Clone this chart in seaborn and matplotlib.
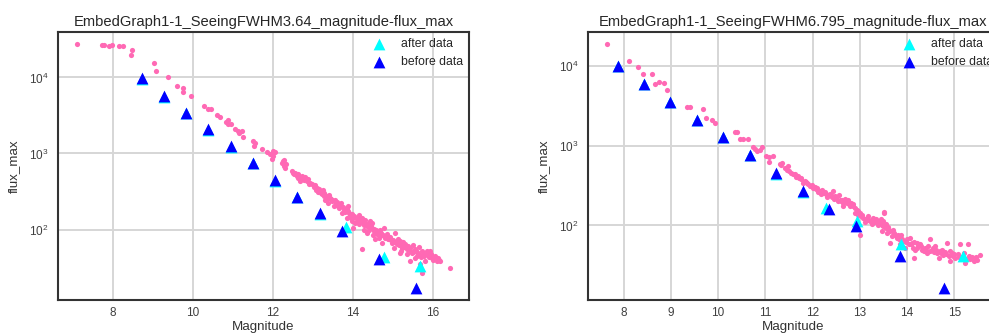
import matplotlib
matplotlib.use("Agg")
import matplotlib.pyplot as plt
import seaborn as sns
import numpy as np
import pandas as pd

# ---------------- data: left panel (SeeingFWHM3.64) ----------------
left_title = "EmbedGraph1-1_SeeingFWHM3.64_magnitude-flux_max"
left_pink_mag = [
    7.09, 7.72, 7.78, 7.91, 7.98, 8.14, 8.24, 8.48, 8.44, 9.03, 9.08, 9.38, 9.59, 9.75, 9.74, 9.95,
    10.28, 10.38, 10.45, 10.59, 10.68, 10.82, 10.88, 10.95, 10.87, 11.05, 11.12, 11.22, 11.15, 11.25,
    11.49, 11.55, 11.53, 11.73, 11.84, 11.91, 11.99, 12.05, 12.00, 12.26, 12.22, 12.31, 12.28, 11.98,
    12.24, 12.30,
    12.47, 12.55, 12.63, 12.72, 12.59, 12.80, 12.66, 12.84, 12.93, 12.97, 12.50, 12.70, 12.88, 13.05,
    13.09, 13.18, 13.26, 13.34, 13.43, 13.30, 13.47, 13.55, 13.38, 13.59, 13.68, 13.51, 13.76, 13.84,
    13.88, 13.72, 13.93, 14.01, 14.09, 13.84, 14.18, 14.05, 14.26, 14.34, 13.99, 13.88, 13.15, 13.22,
    13.40, 13.60, 13.65, 13.80, 13.95, 14.10, 14.15, 13.70, 13.45, 13.25, 13.12,
    14.22, 14.30, 14.26, 14.38, 14.47, 14.34, 14.51, 14.59, 14.55, 14.68, 14.76, 14.80, 14.72, 14.88,
    14.97, 15.05, 15.09, 15.01, 15.18, 15.22, 15.30, 15.34, 15.18, 15.43, 15.47, 15.55, 15.59, 15.43,
    15.72, 15.76, 15.84, 15.93, 15.97, 16.05, 16.18, 16.09, 15.80, 15.68, 14.22, 16.43, 15.72, 14.40,
    14.45, 14.62, 14.65, 14.85, 14.92, 15.00, 15.12, 15.15, 15.25, 15.38, 15.50, 15.60, 15.65, 15.90,
    16.00, 16.12, 14.50, 14.70, 15.35, 15.55, 15.85, 14.42, 14.58,
    12.52, 12.62, 12.76, 12.90, 13.02, 13.08, 13.20, 13.28, 13.36, 13.48, 13.56, 13.62, 13.74, 13.82,
    13.90, 13.97, 14.03, 14.12, 14.20, 14.28, 14.36, 14.44, 14.53, 14.60, 14.66, 14.74, 14.82, 14.90,
    14.95, 15.03, 15.10, 15.16, 15.24, 15.28, 15.36, 15.42, 15.50, 15.58, 15.64, 15.70, 15.78, 15.88,
    15.95, 16.02, 16.15, 14.30, 14.15, 13.98, 14.68, 15.20,
]
left_pink_flux = [
    27400, 26900, 27000, 26000, 27000, 26300, 25700, 22800, 19600, 15400, 12200, 10200, 7700, 7300, 6400, 5740,
    4250, 3870, 3790, 3190, 3040, 2580, 2740, 2450, 2410, 2070, 1970, 1950, 1870, 1670,
    1450, 1380, 1270, 1150, 1060, 970, 920, 1060, 1070, 830, 755, 717, 680, 850,
    790, 650,
    585, 557, 530, 502, 502, 493, 432, 432, 411, 391, 560, 470, 455, 380,
    354, 320, 304, 275, 261, 248, 236, 248, 224, 213, 203, 203, 183, 193,
    174, 166, 157, 150, 142, 142, 135, 122, 122, 111, 105, 203, 340, 290,
    285, 230, 190, 170, 140, 130, 155, 220, 250, 330, 310,
    142, 122, 100, 111, 122, 90, 95, 86, 74, 82, 105, 78, 67, 74,
    67, 90, 64, 57, 70, 57, 64, 55, 49, 57, 49, 55, 45, 38,
    52, 45, 47, 52, 42, 45, 38, 38, 38, 35, 56, 31, 27, 100,
    108, 95, 78, 88, 80, 72, 75, 62, 68, 60, 62, 50, 58, 44,
    40, 42, 84, 90, 48, 42, 52, 128, 100,
    540, 480, 450, 400, 360, 330, 300, 280, 260, 245, 225, 205, 195, 180,
    165, 160, 145, 138, 125, 115, 118, 112, 102, 92, 88, 84, 82, 76,
    72, 68, 70, 66, 60, 58, 58, 52, 50, 52, 48, 44, 48, 46,
    48, 44, 40, 132, 118, 130, 100, 52,
]
left_after_mag = [8.72, 9.27, 9.83, 10.38, 10.94, 11.51, 12.05, 12.60, 13.16, 13.82, 14.76, 15.68]
left_after_flux = [9600, 5600, 3380, 2040, 1230, 745, 440, 265, 162, 107, 43, 33]
left_before_mag = [8.725, 9.275, 9.83, 10.38, 10.94, 11.51, 12.05, 12.60, 13.16, 13.71, 14.65, 15.58]
left_before_flux = [9700, 5680, 3430, 2070, 1250, 755, 446, 269, 164, 97, 41, 17.1]

# ---------------- data: right panel (SeeingFWHM6.795) ----------------
right_title = "EmbedGraph1-1_SeeingFWHM6.795_magnitude-flux_max"
right_pink_mag = [
    7.64, 8.11, 8.30, 8.40, 8.59, 8.67, 8.75, 8.86, 8.92, 9.34, 9.40, 9.67, 9.74, 9.88, 9.93, 10.36,
    10.40, 10.47, 10.52, 10.63, 10.73, 10.78, 10.83, 10.88, 10.92, 11.02, 11.08, 11.16, 11.07, 11.33,
    11.41, 11.48,
    11.305, 11.36, 11.55, 11.62, 11.69, 11.76, 11.83, 11.80, 11.90, 11.94, 12.01, 12.08, 12.15, 12.22,
    12.29, 12.36, 12.43, 12.40, 12.50, 12.57, 12.64, 12.71, 12.78, 12.86, 12.64, 12.93, 12.89, 13.00,
    13.07, 13.14, 13.21, 13.28, 13.35, 13.42, 13.49, 13.56, 13.52, 13.00, 12.75, 13.51,
    11.50, 11.65, 11.72, 11.88, 12.05, 12.12, 12.20, 12.30, 12.45, 12.55, 12.60, 12.68, 12.82, 12.90,
    12.97, 13.05, 13.10, 13.18, 13.25, 13.30, 13.38, 13.45, 13.60,
    13.43, 13.50, 13.47, 13.57, 13.64, 13.68, 13.75, 13.64, 13.82, 13.93, 14.00, 14.03, 13.96, 14.10,
    14.17, 14.14, 14.24, 14.31, 14.38, 14.42, 14.49, 14.53, 14.60, 14.63, 14.67, 14.74, 14.77, 14.84,
    14.88, 14.95, 14.91, 15.02, 15.12, 15.23, 15.29, 15.34, 15.41, 15.55,
    13.55, 13.70, 13.78, 13.88, 14.06, 14.20, 14.28, 14.35, 14.45, 14.56, 14.70, 14.80, 14.98, 15.08,
    15.15, 15.20, 15.30, 15.45, 13.85, 14.12,
    11.45, 11.58, 11.75, 11.85, 11.98, 12.10, 12.18, 12.26, 12.33, 12.42, 12.48, 12.53, 12.62, 12.72,
    12.80, 12.85, 12.95, 13.02, 13.12, 13.20, 13.32, 13.40, 13.46, 13.53, 13.62, 13.72, 13.80, 13.90,
    13.98, 14.08, 14.15, 14.22, 14.30, 14.40, 14.48, 14.55, 14.62, 14.72, 14.82, 14.90, 15.00, 15.10,
    15.25, 15.38, 15.48,
]
right_pink_flux = [
    18500, 11300, 9720, 7940, 7790, 5900, 6180, 6010, 5010, 3050, 3050, 2900, 2220, 2110, 1900, 1455,
    1455, 1220, 1220, 1220, 964, 910, 850, 890, 964, 735, 722, 735, 630, 575,
    525, 550,
    579, 607, 455, 434, 414, 376, 358, 341, 326, 310, 296, 282, 269, 256,
    244, 244, 269, 233, 222, 211, 192, 201, 183, 175, 175, 158, 144, 144,
    125, 119, 113, 125, 119, 108, 113, 103, 144, 77, 211, 147,
    480, 400, 390, 340, 300, 260, 275, 230, 215, 240, 200, 215, 190, 165,
    135, 135, 110, 130, 105, 115, 100, 120, 95,
    113, 98, 85, 81, 85, 74, 77, 61, 67, 64, 67, 58, 53, 61,
    50, 39, 55, 50, 53, 45, 67, 50, 55, 45, 39, 50, 43, 61,
    41, 45, 36, 39, 58, 34, 58, 38, 36, 43,
    92, 88, 70, 75, 70, 60, 58, 48, 55, 46, 48, 47, 42, 44,
    40, 45, 42, 40, 58, 52,
    500, 440, 390, 350, 320, 290, 250, 265, 240, 225, 235, 205, 210, 190,
    175, 185, 150, 130, 122, 118, 110, 112, 100, 95, 88, 80, 76, 68,
    62, 58, 62, 52, 55, 50, 48, 52, 50, 45, 44, 48, 44, 40,
    38, 40, 37,
]
right_after_mag = [7.87, 8.435, 8.99, 9.55, 10.10, 10.67, 11.23, 11.79, 12.28, 12.94, 13.88, 15.18]
right_after_flux = [9800, 5800, 3450, 2080, 1265, 752, 440, 264, 166, 113, 59, 42]
right_before_mag = [7.87, 8.435, 8.99, 9.55, 10.10, 10.67, 11.23, 11.79, 12.35, 12.91, 13.86, 14.79]
right_before_flux = [10000, 5900, 3510, 2110, 1285, 764, 447, 268, 162, 98, 41, 16.6]

PINK = "#ff69b4"
CYAN = "#00ffff"
BLUE = "#0000ff"

sns.set_theme(style="white")
plt.rcParams["font.family"] = ["Liberation Sans", "DejaVu Sans"]
plt.rcParams["mathtext.fontset"] = "custom"
plt.rcParams["mathtext.rm"] = "Liberation Sans"
plt.rcParams["mathtext.it"] = "Liberation Sans:italic"
plt.rcParams["mathtext.bf"] = "Liberation Sans:bold"

fig = plt.figure(figsize=(9.89, 3.35), dpi=100)
ax_l = fig.add_axes([58 / 989, 35 / 335, 411 / 989, 268 / 335])
ax_r = fig.add_axes([588 / 989, 35 / 335, 411 / 989, 268 / 335])


def draw(ax, title, pm, pf, am, af, bm, bf):
    sns.scatterplot(x=pm, y=pf, ax=ax, color=PINK, s=14, linewidth=0, legend=False, zorder=3)
    sns.scatterplot(x=am, y=af, ax=ax, color=CYAN, marker="^", s=72, linewidth=0,
                    label="after data", zorder=4)
    sns.scatterplot(x=bm, y=bf, ax=ax, color=BLUE, marker="^", s=72, linewidth=0,
                    label="before data", zorder=5)
    ax.set_yscale("log")
    ax.set_title(title, fontsize=10.6, color="#262626", pad=4)
    ax.set_xlabel("Magnitude", fontsize=9.6, color="#333333", labelpad=1.5)
    ax.set_ylabel("flux_max", fontsize=9.6, color="#333333", labelpad=6)
    ax.grid(True, which="major", color="#d6d6d6", linewidth=1.4)
    ax.grid(False, which="minor")
    ax.set_axisbelow(True)
    ax.tick_params(axis="both", which="both", length=0, labelsize=8.5, labelcolor="#404040")
    ax.tick_params(axis="x", pad=5)
    ax.tick_params(axis="y", pad=7)
    for sp in ax.spines.values():
        sp.set_visible(True)
        sp.set_color("#333333")
        sp.set_linewidth(1.5)
    ax.legend(loc="upper right", frameon=False, fontsize=8.8, borderaxespad=0.1,
              handletextpad=0.8, labelspacing=0.5)


draw(ax_l, left_title, left_pink_mag, left_pink_flux, left_after_mag, left_after_flux,
     left_before_mag, left_before_flux)
draw(ax_r, right_title, right_pink_mag, right_pink_flux, right_after_mag, right_after_flux,
     right_before_mag, right_before_flux)

fig.savefig("out.png", dpi=100)
